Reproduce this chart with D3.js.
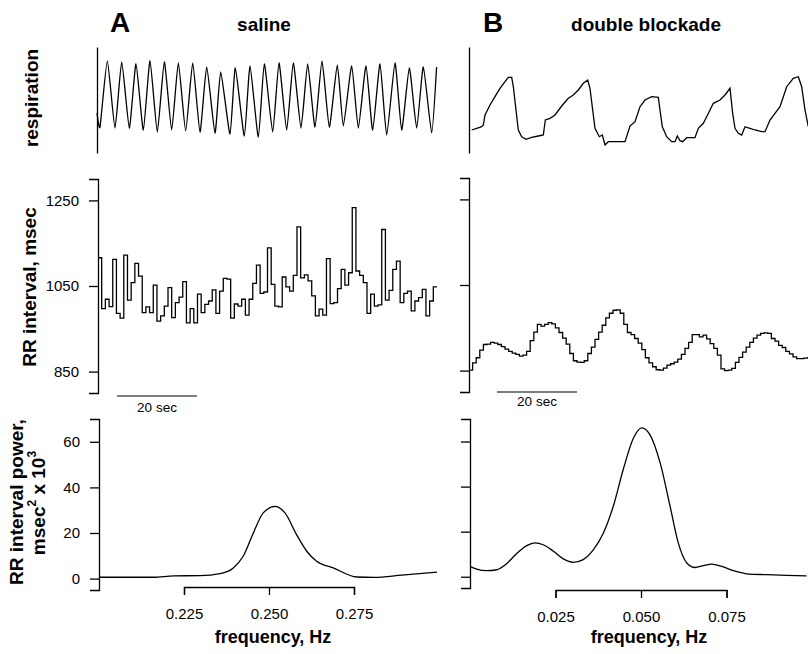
<!DOCTYPE html>
<html>
<meta charset="utf-8">
<style>
body { margin: 0; background: #fff; }
svg { font-family: "Liberation Sans", Arial, sans-serif; }
.trace { fill: none; stroke: #000; stroke-width: 1.3; }
.axis path, .axis line { stroke: #000; stroke-width: 1.3; }
.axis text { fill: #000; }
.lbl { font-weight: bold; fill: #000; }
</style>
<body>
<svg width="808" height="654"></svg>
<script src="https://d3js.org/d3.v7.min.js"></script>
<script>
// respiration, saline (time s, arbitrary units)
var respA_t = [0, 0.75, 2.58, 4.5, 6.17, 8.08, 9.75, 11.58, 13.25, 15.08, 16.83, 18.67, 20.33, 22.17, 23.92, 25.75, 27.42, 29.5, 30.92, 33.25, 34.58, 36.83, 38.25, 40.33, 41.83, 43.92, 45.5, 47.42, 49.08, 51, 52.67, 54.5, 56.25, 58.08, 60.08, 61.58, 63.67, 65.33, 67.25, 68.92, 70.75, 72.42, 74.5, 76.17, 78.08, 79.92, 81.58, 83.67, 84.9];
var respA_v = [40, 26, 92, 25, 91, 25, 89, 23, 92, 21, 91, 23, 90, 22, 90, 21, 86, 20, 81, 19, 85, 17, 87, 16, 89, 21, 90, 23, 90, 25, 89, 26, 92, 26, 88, 27, 87, 25, 87, 23, 89, 18, 90, 23, 85, 25, 86, 20, 86];

// respiration, double blockade
var respB_t = [0.67, 1.92, 3.17, 3.58, 4.0, 5.25, 6.5, 7.75, 9.0, 9.83, 10.67, 11.08, 11.75, 12.33, 13.17, 14.25, 15.67, 17.33, 18.58, 19.08, 20.25, 21.5, 23.17, 24.83, 26.08, 27.33, 28.58, 29.67, 30.25, 30.92, 31.5, 32.58, 33.33, 34.0, 34.83, 36.08, 39.0, 40.25, 41.5, 42.75, 44.0, 45.67, 47.33, 47.75, 48.33, 49.42, 50.67, 51.5, 52.08, 52.75, 53.42, 54.42, 56.5, 57.33, 58.58, 59.42, 61.08, 62.75, 64.0, 65.25, 65.92, 66.5, 67.33, 68.17, 69.0, 70.25, 71.5, 73.17, 74.0, 75.25, 76.5, 77.75, 79.42, 81.08, 82.33, 83.17, 84.0, 84.83];
var respB_v = [23, 24.7, 26.3, 28, 38, 48, 56.3, 64.7, 71.3, 75.7, 75.7, 66.3, 43, 23, 16.3, 13.7, 15.7, 17, 18, 33, 34.7, 38, 47, 54.7, 58, 63, 69.7, 73, 64.7, 43, 24.7, 16.3, 18, 8, 11.3, 11.3, 11.3, 27, 31.3, 46.3, 53, 56.3, 55.7, 43, 26.3, 16.3, 11.3, 11.3, 17, 12.3, 11.3, 15.3, 15.3, 24.7, 29.7, 36.3, 49.7, 53, 58, 64.7, 39.7, 24.7, 19.7, 18, 26.3, 24.7, 23, 21.3, 21.3, 33, 39.7, 46.3, 66.3, 74.7, 76.3, 66.3, 43, 26.3];

// beat-by-beat RR intervals, msec
var rrA = [1116, 997, 1019, 1002, 1112, 986, 975, 1122, 1017, 1058,
  1103, 1073, 988, 1001, 988, 1052, 968, 980, 1003, 1046,
  976, 1011, 1024, 1060, 964, 997, 964, 1031, 988, 1007,
  1015, 1041, 986, 1038, 1068, 1066, 975, 1008, 1003, 1019,
  982, 1019, 1056, 1099, 1033, 1036, 1139, 1054, 1003, 1001,
  1071, 1048, 1038, 1075, 1188, 1069, 1076, 1062, 1027, 980,
  996, 982, 1114, 1009, 1011, 1044, 1089, 1052, 1081, 1233,
  1085, 1075, 1058, 986, 1031, 1003, 1006, 1182, 1017, 1040,
  1089, 1108, 1011, 1033, 1038, 992, 1015, 1023, 1042, 980,
  1015, 1048];
var rrB = [851, 868, 880, 898, 911, 912, 916, 914, 911, 906,
  900, 895, 891, 888, 884, 886, 895, 920, 940, 958,
  954, 958, 962, 959, 950, 939, 926, 912, 890, 873,
  870, 869, 873, 890, 905, 923, 940, 956, 973, 984,
  991, 992, 984, 958, 939, 934, 925, 914, 899, 880,
  868, 859, 852, 851, 856, 863, 866, 870, 877, 888,
  902, 916, 934, 934, 929, 933, 924, 913, 902, 886,
  854, 850, 851, 855, 869, 881, 893, 905, 916, 926,
  933, 937, 938, 937, 925, 919, 909, 904, 895, 889,
  882, 878, 878, 879, 880];

// RR interval power spectra (Hz, msec^2 x 10^3)
var specA_f = [0.200, 0.216, 0.222, 0.2297, 0.2356, 0.2395, 0.2424, 0.2454, 0.2483, 0.2518, 0.2547, 0.2581, 0.2611, 0.2640, 0.2689, 0.2758, 0.281, 0.289, 0.2994];
var specA_p = [0.6, 0.6, 1.2, 1.3, 2.2, 4.7, 9.8, 20, 28.8, 31.7, 28.8, 19.3, 12, 7.6, 4.7, 0.7, 0.5, 1.5, 2.8];
var specB_f = [0, 0.00195, 0.00487, 0.0078, 0.0107, 0.0136, 0.0166, 0.019, 0.0214, 0.0244, 0.0273, 0.0302, 0.0331, 0.0361, 0.039, 0.0419, 0.0448, 0.0478, 0.0502, 0.0526, 0.0556, 0.0585, 0.0609, 0.0634, 0.0658, 0.0682, 0.0707, 0.0736, 0.077, 0.0809, 0.0867, 0.0926, 0.0984];
var specB_p = [4.6, 3.4, 2.7, 3.1, 5.8, 10.2, 13.8, 15.0, 14.2, 11.3, 7.9, 6.4, 7.6, 12, 19.4, 31.3, 47.6, 61.6, 66.1, 63.1, 50.5, 31.3, 15, 6.1, 4.1, 4.9, 5.6, 4.6, 2.7, 1.3, 0.9, 0.6, 0.4];

var rrTicks = [850, 1050, 1250];
var powTicks = [0, 20, 40, 60];
var freqTicksA = [0.225, 0.250, 0.275];
var freqTicksB = [0.025, 0.050, 0.075];

var svg = d3.select("svg");

function drawLine(xs, ys, x, y, curve) {
  var pts = xs.map(function(d, i) { return [d, ys[i]]; });
  svg.append("path").attr("class", "trace")
    .attr("d", d3.line().x(function(d) { return x(d[0]); }).y(function(d) { return y(d[1]); }).curve(curve)(pts));
}

function drawSteps(vals, x, y) {
  var pts = vals.map(function(d, i) { return [i, d]; });
  pts.push([vals.length, vals[vals.length - 1]]);
  svg.append("path").attr("class", "trace")
    .attr("d", d3.line().x(function(d) { return x(d[0]); }).y(function(d) { return y(d[1]); }).curve(d3.curveStepAfter)(pts));
}

function yAxis(xpos, y, ticks, labels) {
  var ax = d3.axisLeft(y).tickSizeOuter(0);
  if (ticks) {
    ax.tickValues(ticks).tickSize(9).tickPadding(10).tickFormat(labels ? d3.format("d") : "");
  } else {
    ax.tickValues([]);
  }
  var g = svg.append("g").attr("class", "axis")
    .attr("transform", "translate(" + xpos + ",0)").call(ax);
  g.selectAll("text").attr("font-size", 15).attr("font-family", null);
}

function freqAxis(x, ypos, ticks) {
  var sub = x.copy().domain([ticks[0], ticks[2]]).range([x(ticks[0]), x(ticks[2])]);
  var g = svg.append("g").attr("class", "axis")
    .attr("transform", "translate(0," + ypos + ")")
    .call(d3.axisBottom(sub).tickValues(ticks).tickSize(8).tickSizeOuter(8)
      .tickPadding(13).tickFormat(d3.format(".3f")));
  g.selectAll("text").attr("font-size", 15).attr("font-family", null);
}

function scaleBar(t, t0, ybar, ytext) {
  svg.append("line").attr("x1", t(t0)).attr("x2", t(t0 + 20))
    .attr("y1", ybar).attr("y2", ybar).attr("stroke", "#000").attr("stroke-width", 1.2);
  svg.append("text").attr("x", t(t0 + 10)).attr("y", ytext)
    .attr("text-anchor", "middle").attr("font-size", 13.5).text("20 sec");
}

// ---- column A (saline) ----
var tA = d3.scaleLinear().domain([0, 85]).range([97, 437]);
var yResA = d3.scaleLinear().domain([0, 106]).range([153, 47]);
yAxis(97, yResA, null);
drawLine(respA_t, respA_v, tA, yResA, d3.curveCardinal.tension(0.5));

var iA = d3.scaleLinear().domain([0, rrA.length]).range([98, 437]);
var yRRA = d3.scaleLinear().domain([800, 1300]).range([393, 179]);
yAxis(98, yRRA, rrTicks, true);
drawSteps(rrA, iA, yRRA);
scaleBar(tA, 5, 396, 412);

var fA = d3.scaleLinear().domain([0.2, 0.3]).range([99, 439]);
var yPA = d3.scaleLinear().domain([-5, 70]).range([590, 419]);
yAxis(99, yPA, powTicks, true);
drawLine(specA_f, specA_p, fA, yPA, d3.curveMonotoneX);
freqAxis(fA, 587, freqTicksA);

// ---- column B (double blockade) ----
var tB = d3.scaleLinear().domain([0, 85]).range([469, 809]);
var yResB = d3.scaleLinear().domain([0, 106]).range([153, 47]);
yAxis(469, yResB, null);
drawLine(respB_t, respB_v, tB, yResB, d3.curveLinear);

var iB = d3.scaleLinear().domain([0, rrB.length]).range([469, 811]);
var yRRB = d3.scaleLinear().domain([800, 1300]).range([392, 178]);
yAxis(469, yRRB, rrTicks, false);
drawSteps(rrB, iB, yRRB);
scaleBar(tB, 7, 392, 406);

var fB = d3.scaleLinear().domain([0, 0.1]).range([470, 812]);
var yPB = d3.scaleLinear().domain([-5, 70]).range([588, 419]);
yAxis(470, yPB, powTicks, false);
drawLine(specB_f, specB_p, fB, yPB, d3.curveMonotoneX);
freqAxis(fB, 590, freqTicksB);

// ---- titles and labels ----
svg.append("text").attr("class", "lbl").attr("x", 110).attr("y", 32).attr("font-size", 28).text("A");
svg.append("text").attr("class", "lbl").attr("x", 264).attr("y", 31).attr("font-size", 19)
  .attr("text-anchor", "middle").text("saline");
svg.append("text").attr("class", "lbl").attr("x", 483).attr("y", 32).attr("font-size", 28).text("B");
svg.append("text").attr("class", "lbl").attr("x", 646).attr("y", 31).attr("font-size", 19)
  .attr("text-anchor", "middle").text("double blockade");

svg.append("text").attr("class", "lbl").attr("transform", "translate(38,98) rotate(-90)")
  .attr("text-anchor", "middle").attr("font-size", 19).text("respiration");
svg.append("text").attr("class", "lbl").attr("transform", "translate(36,287) rotate(-90)")
  .attr("text-anchor", "middle").attr("font-size", 19).text("RR interval, msec");
svg.append("text").attr("class", "lbl").attr("transform", "translate(23,502) rotate(-90)")
  .attr("text-anchor", "middle").attr("font-size", 19).text("RR interval power,");
var l2 = svg.append("text").attr("class", "lbl").attr("transform", "translate(45,503) rotate(-90)")
  .attr("text-anchor", "middle").attr("font-size", 19);
l2.append("tspan").text("msec");
l2.append("tspan").attr("dy", -9).attr("font-size", 12).text("2");
l2.append("tspan").attr("dy", 9).text(" x 10");
l2.append("tspan").attr("dy", -9).attr("font-size", 12).text("3");

svg.append("text").attr("class", "lbl").attr("x", 273).attr("y", 643).attr("font-size", 18)
  .attr("text-anchor", "middle").text("frequency, Hz");
svg.append("text").attr("class", "lbl").attr("x", 649).attr("y", 643).attr("font-size", 18)
  .attr("text-anchor", "middle").text("frequency, Hz");
</script>
</body>
</html>
